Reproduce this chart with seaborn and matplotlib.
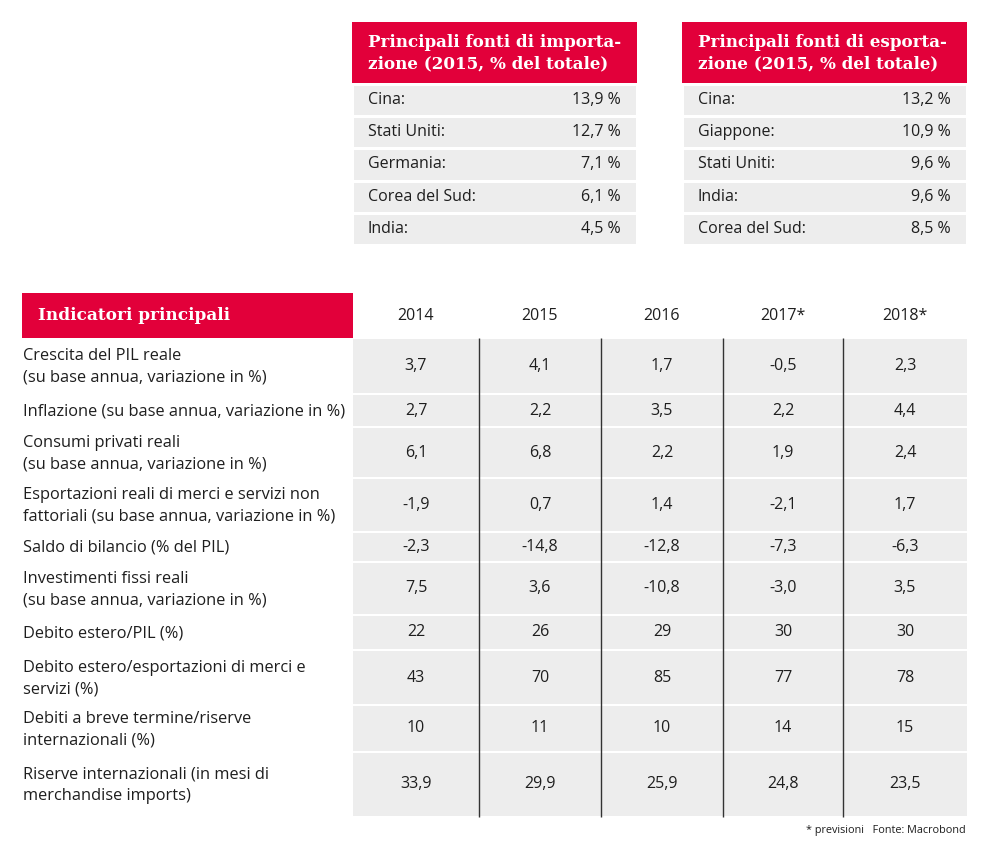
import numpy as np
import matplotlib
matplotlib.use("Agg")
import matplotlib.pyplot as plt
from matplotlib.colors import ListedColormap
from matplotlib.patches import Rectangle
import seaborn as sns

# dati
imp_paesi = ["Cina:", "Stati Uniti:", "Germania:", "Corea del Sud:", "India:"]
imp_quote = [13.9, 12.7, 7.1, 6.1, 4.5]
exp_paesi = ["Cina:", "Giappone:", "Stati Uniti:", "India:", "Corea del Sud:"]
exp_quote = [13.2, 10.9, 9.6, 9.6, 8.5]

anni = ["2014", "2015", "2016", "2017*", "2018*"]
indicatori = [
    "Crescita del PIL reale\n(su base annua, variazione in %)",
    "Inflazione (su base annua, variazione in %)",
    "Consumi privati reali\n(su base annua, variazione in %)",
    "Esportazioni reali di merci e servizi non\nfattoriali (su base annua, variazione in %)",
    "Saldo di bilancio (% del PIL)",
    "Investimenti fissi reali\n(su base annua, variazione in %)",
    "Debito estero/PIL (%)",
    "Debito estero/esportazioni di merci e\nservizi (%)",
    "Debiti a breve termine/riserve\ninternazionali (%)",
    "Riserve internazionali (in mesi di\nmerchandise imports)",
]
valori = [
    [3.7, 4.1, 1.7, -0.5, 2.3],
    [2.7, 2.2, 3.5, 2.2, 4.4],
    [6.1, 6.8, 2.2, 1.9, 2.4],
    [-1.9, 0.7, 1.4, -2.1, 1.7],
    [-2.3, -14.8, -12.8, -7.3, -6.3],
    [7.5, 3.6, -10.8, -3.0, 3.5],
    [22, 26, 29, 30, 30],
    [43, 70, 85, 77, 78],
    [10, 11, 10, 14, 15],
    [33.9, 29.9, 25.9, 24.8, 23.5],
]

ROSSO = "#E2003A"
GRIGIO = "#EDEDED"
TESTO = "#1E1E1E"
SANS = "Open Sans"
SERIF = "DejaVu Serif"
FS = 11.5


def fmt(v):
    if isinstance(v, float):
        return f"{v:.1f}".replace(".", ",")
    return str(v)


sns.set_theme(style="white")
plt.rcParams["font.family"] = [SANS, "DejaVu Sans"]

W, H = 998, 857
fig = plt.figure(figsize=(W / 100, H / 100), dpi=100)
ax = fig.add_axes([0, 0, 1, 1])
ax.set_xlim(0, W)
ax.set_ylim(H, 0)
ax.axis("off")


def tabella_fonti(x0, titolo, paesi, quote):
    # intestazione rossa
    ax.add_patch(Rectangle((x0, 22), 285, 61, color=ROSSO, lw=0))
    ax.text(x0 + 16, 53, titolo, color="white", family=SERIF, weight="bold",
            fontsize=12.1, va="center", ha="left", linespacing=1.3)
    # righe grigie
    sub = fig.add_axes([x0 / W, 1 - 245 / H, 285 / W, 161 / H])
    sns.heatmap(np.array(quote)[:, None], cmap=ListedColormap([GRIGIO]), cbar=False,
                linewidths=2, linecolor="white", xticklabels=False,
                yticklabels=False, ax=sub)
    for i, (p, q) in enumerate(zip(paesi, quote)):
        sub.text(0.056, i + 0.5, p, ha="left", va="center", fontsize=FS, color=TESTO)
        sub.text(0.944, i + 0.5, fmt(q) + " %", ha="right", va="center",
                 fontsize=FS, color=TESTO)


tabella_fonti(352, "Principali fonti di importa-\nzione (2015, % del totale)",
              imp_paesi, imp_quote)
tabella_fonti(682, "Principali fonti di esporta-\nzione (2015, % del totale)",
              exp_paesi, exp_quote)

# tabella indicatori
ax.add_patch(Rectangle((22, 293), 331, 45, color=ROSSO, lw=0))
ax.text(38, 316, "Indicatori principali", color="white", family=SERIF,
        weight="bold", fontsize=12.2, va="center", ha="left")

col_bordi = np.array([353, 479, 601, 723, 843, 967])
col_centri = (col_bordi[:-1] + col_bordi[1:]) / 2
riga_bordi = np.array([338, 394, 427, 478, 532, 562, 615, 650, 705, 752, 817])
riga_centri = (riga_bordi[:-1] + riga_bordi[1:]) / 2
riga_alt = np.diff(riga_bordi)

for xc, anno in zip(col_centri, anni):
    ax.text(xc, 316, anno, ha="center", va="center", fontsize=FS, color=TESTO)

ax.barh(riga_centri, col_bordi[-1] - col_bordi[0], left=col_bordi[0],
        height=riga_alt - 2, color=GRIGIO, lw=0)

for yc, lab, riga in zip(riga_centri, indicatori, valori):
    ax.text(23, yc + 1, lab, ha="left", va="center", fontsize=11.8, color=TESTO,
            linespacing=1.45)
    for xc, v in zip(col_centri, riga):
        ax.text(xc, yc, fmt(v), ha="center", va="center", fontsize=FS, color=TESTO)

ax.vlines(col_bordi[1:-1], riga_bordi[0], riga_bordi[-1], color="#333333", lw=1)

ax.text(966, 831, "* previsioni   Fonte: Macrobond", ha="right", va="center",
        fontsize=7.8, color=TESTO)

fig.savefig("out.png", dpi=100)
